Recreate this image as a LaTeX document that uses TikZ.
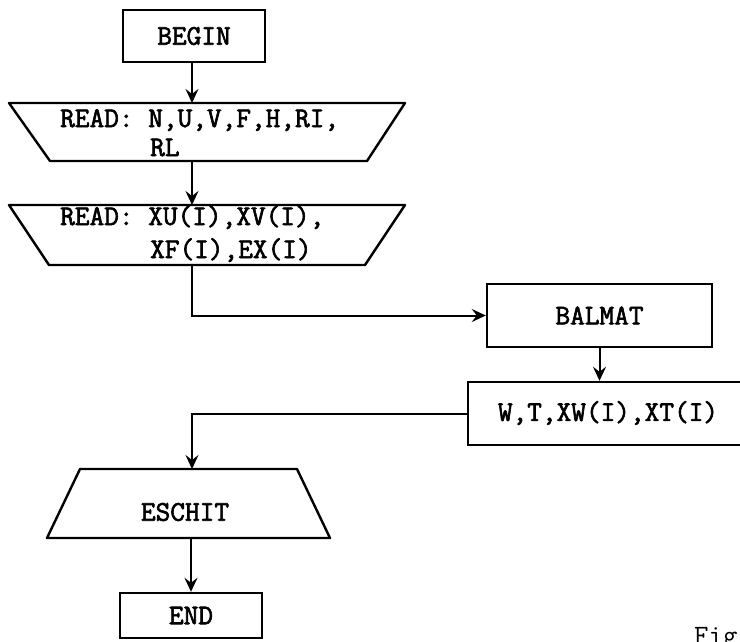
\documentclass[tikz,border=0pt]{standalone}
\usepackage{fontspec}
\newfontfamily\twfont{Latin Modern Mono}[FakeBold=2.2]
\newfontfamily\twplain{Latin Modern Mono}
\usetikzlibrary{arrows.meta}
\begin{document}
\begin{tikzpicture}[x=1pt,y=-1pt,
  box/.style={draw, line width=2.4pt, rectangle, inner sep=0pt},
  trap/.style={draw, line width=2.4pt, line join=round},
  lbl/.style={font=\twfont\fontsize{28.5}{32}\selectfont, inner sep=0pt},
  txt/.style={font=\twfont\fontsize{28.5}{32}\selectfont, inner sep=0pt, anchor=base west},
  flow/.style={line width=2pt, -{Stealth[length=14pt,width=13pt,inset=5pt]}}]
\useasboundingbox (0,0) rectangle (740,641);
\begin{scope}
\clip (0,0) rectangle (740,641);

% BEGIN
\node[box, lbl, minimum width=142pt, minimum height=52pt] (begin) at (194,36) {BEGIN};

% READ 1
\draw[trap] (9,103) -- (405,103) -- (367,161) -- (50,161) -- cycle;
\coordinate (r1top) at (192,103);
\coordinate (r1bot) at (192,161);
\node[txt] (r1a) at (60,127) {READ: N,U,V,F,H,RI,};
\node[txt] (r1b) at (150,156) {RL};

% READ 2
\draw[trap] (9,205) -- (405,205) -- (365,265) -- (49,265) -- cycle;
\coordinate (r2top) at (192,205);
\coordinate (r2bot) at (192,265);
\node[txt] (r2a) at (60,225) {READ: XU(I),XV(I),};
\node[txt] (r2b) at (150,258) {XF(I),EX(I)};

% BALMAT
\node[box, lbl, minimum width=225pt, minimum height=63pt] (balmat) at (599.5,315.5) {BALMAT};

% W,T box
\node[box, minimum width=282pt, minimum height=63pt] (wt) at (609,413.5) {};
\node[lbl] (wtl) at (608,413) {W,T,XW(I),XT(I)};

% ESCHIT
\draw[trap] (80,469) -- (297,469) -- (330,538) -- (47,538) -- cycle;
\coordinate (etop) at (192,469);
\coordinate (ebot) at (191,538);
\node[lbl] (eschit) at (185,512) {ESCHIT};

% END
\node[box, lbl, minimum width=142pt, minimum height=45pt] (endb) at (191,615.5) {END};

% Fig caption (cut off at the lower edge, as in the reference)
\node[font=\twplain\fontsize{28}{30}\selectfont, inner sep=0pt, anchor=base west] (fig) at (694,644) {Fig};

% connectors
\draw[flow] (begin.south -| r1top) -- (r1top);
\draw[flow] (r1bot) -- (r2top);
\draw[flow] (r2bot) |- (balmat.west);
\draw[flow] (balmat.south) -- (balmat.south |- wt.north);
\draw[flow] (wt.west) -| (etop);
\draw[flow] (ebot) -- (endb.north);
\end{scope}
\end{tikzpicture}
\end{document}
